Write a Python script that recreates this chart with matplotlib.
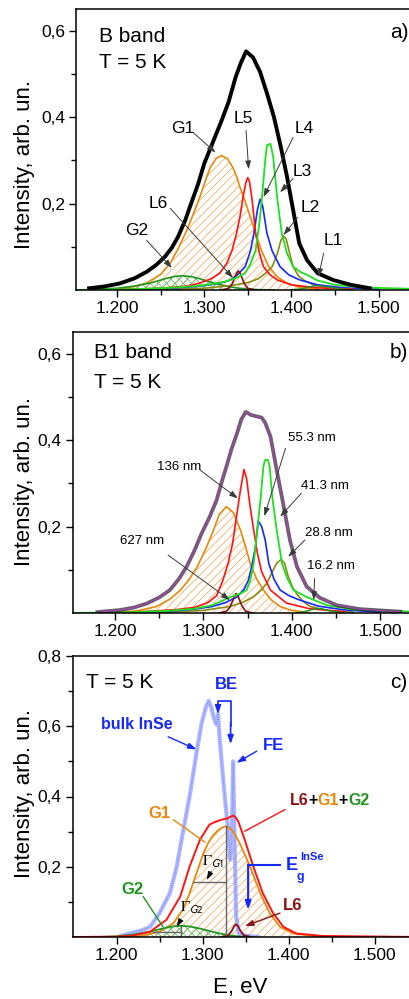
import matplotlib
matplotlib.use('Agg')
import matplotlib.pyplot as plt
from matplotlib.offsetbox import TextArea, HPacker, AnnotationBbox

plt.rcParams['font.family'] = ['Liberation Sans', 'DejaVu Sans']
plt.rcParams['mathtext.fontset'] = 'stix'
plt.rcParams['hatch.linewidth'] = 0.6

# ---------------- data ----------------
# panel a) B band
a_env_x = [1.168, 1.185, 1.203, 1.22, 1.234, 1.245, 1.255, 1.263, 1.270, 1.278, 1.285, 1.293, 1.300,
           1.310, 1.320, 1.328, 1.336, 1.342, 1.348, 1.356, 1.364, 1.372, 1.380, 1.388, 1.395, 1.402,
           1.409, 1.418, 1.430, 1.448, 1.468, 1.490]
a_env_y = [0.004, 0.008, 0.015, 0.027, 0.042, 0.058, 0.077, 0.098, 0.123, 0.160, 0.200, 0.245, 0.292,
           0.342, 0.392, 0.435, 0.492, 0.525, 0.552, 0.538, 0.505, 0.455, 0.400, 0.330, 0.262, 0.185,
           0.108, 0.069, 0.039, 0.023, 0.012, 0.004]
a_g1_x = [1.20, 1.22, 1.234, 1.25, 1.261, 1.270, 1.280, 1.288, 1.295, 1.302, 1.307, 1.314, 1.320, 1.327,
          1.333, 1.338, 1.341, 1.347, 1.353, 1.359, 1.366, 1.374, 1.384, 1.395, 1.41, 1.43]
a_g1_y = [0.002, 0.008, 0.016, 0.036, 0.062, 0.095, 0.138, 0.178, 0.215, 0.256, 0.284, 0.305, 0.311,
          0.303, 0.283, 0.258, 0.238, 0.205, 0.168, 0.131, 0.09, 0.054, 0.03, 0.016, 0.006, 0.002]
a_g2_x = [1.17, 1.20, 1.22, 1.24, 1.255, 1.265, 1.274, 1.285, 1.295, 1.31, 1.325, 1.34, 1.36, 1.38]
a_g2_y = [0.001, 0.004, 0.009, 0.017, 0.026, 0.031, 0.033, 0.031, 0.026, 0.017, 0.009, 0.004, 0.001, 0.0]
a_l6_x = [1.320, 1.328, 1.332, 1.335, 1.337, 1.339, 1.341, 1.343, 1.346, 1.350, 1.358]
a_l6_y = [0.0, 0.004, 0.014, 0.028, 0.038, 0.044, 0.040, 0.030, 0.015, 0.004, 0.0]
a_l5_x = [1.20, 1.25, 1.28, 1.295, 1.308, 1.318, 1.326, 1.332, 1.337, 1.341, 1.345, 1.348, 1.350, 1.352,
          1.355, 1.359, 1.363, 1.368, 1.375, 1.384, 1.40, 1.43, 1.47]
a_l5_y = [0.001, 0.004, 0.009, 0.016, 0.026, 0.039, 0.062, 0.092, 0.13, 0.169, 0.22, 0.25, 0.26, 0.25,
          0.208, 0.131, 0.088, 0.054, 0.036, 0.023, 0.012, 0.005, 0.002]
a_l4_x = [1.22, 1.26, 1.29, 1.31, 1.322, 1.330, 1.338, 1.347, 1.353, 1.357, 1.361, 1.364, 1.367, 1.372,
          1.378, 1.387, 1.397, 1.410, 1.43, 1.46, 1.50]
a_l4_y = [0.001, 0.004, 0.008, 0.013, 0.018, 0.023, 0.035, 0.054, 0.09, 0.131, 0.185, 0.21, 0.195, 0.131,
          0.09, 0.054, 0.035, 0.023, 0.012, 0.005, 0.002]
a_l3_x = [1.15, 1.22, 1.26, 1.29, 1.31, 1.325, 1.337, 1.347, 1.353, 1.359, 1.363, 1.366, 1.370, 1.372,
          1.376, 1.379, 1.384, 1.389, 1.395, 1.402, 1.410, 1.418, 1.43, 1.45, 1.48, 1.55]
a_l3_y = [0.0, 0.002, 0.005, 0.009, 0.014, 0.02, 0.028, 0.039, 0.06, 0.092, 0.15, 0.208, 0.30, 0.335,
          0.338, 0.31, 0.208, 0.131, 0.085, 0.054, 0.042, 0.035, 0.022, 0.012, 0.006, 0.002]
a_l2_x = [1.25, 1.30, 1.33, 1.350, 1.362, 1.370, 1.378, 1.384, 1.388, 1.391, 1.394, 1.398, 1.402, 1.408,
          1.414, 1.425, 1.44, 1.47]
a_l2_y = [0.001, 0.004, 0.01, 0.017, 0.026, 0.038, 0.054, 0.085, 0.115, 0.125, 0.118, 0.085, 0.054, 0.033,
          0.023, 0.012, 0.006, 0.002]
a_l1_x = [1.40, 1.415, 1.425, 1.432, 1.44, 1.455, 1.47]
a_l1_y = [0.0, 0.004, 0.009, 0.010, 0.008, 0.003, 0.0]

# panel b) B1 band
b_env_x = [1.18, 1.206, 1.222, 1.236, 1.250, 1.262, 1.272, 1.281, 1.290, 1.298, 1.307, 1.315, 1.320,
           1.326, 1.332, 1.338, 1.343, 1.348, 1.354, 1.360, 1.366, 1.370, 1.376, 1.383, 1.391, 1.398,
           1.406, 1.417, 1.432, 1.451, 1.477, 1.523]
b_env_y = [0.002, 0.007, 0.013, 0.022, 0.036, 0.053, 0.078, 0.107, 0.145, 0.184, 0.222, 0.261, 0.298,
           0.338, 0.380, 0.415, 0.448, 0.465, 0.458, 0.455, 0.452, 0.44, 0.408, 0.331, 0.246, 0.169,
           0.107, 0.061, 0.035, 0.018, 0.009, 0.003]
b_g1_x = [1.20, 1.225, 1.247, 1.262, 1.274, 1.284, 1.293, 1.302, 1.310, 1.318, 1.326, 1.334, 1.342,
          1.348, 1.353, 1.360, 1.368, 1.377, 1.387, 1.40, 1.42]
b_g1_y = [0.001, 0.005, 0.015, 0.032, 0.053, 0.078, 0.107, 0.145, 0.184, 0.228, 0.246, 0.232, 0.192,
          0.152, 0.115, 0.08, 0.053, 0.03, 0.015, 0.006, 0.001]
b_136_x = [1.20, 1.24, 1.27, 1.29, 1.305, 1.315, 1.322, 1.328, 1.333, 1.338, 1.342, 1.346, 1.349, 1.353,
           1.357, 1.361, 1.366, 1.376, 1.394, 1.42, 1.46]
b_136_y = [0.001, 0.004, 0.008, 0.013, 0.024, 0.04, 0.075, 0.115, 0.16, 0.23, 0.285, 0.332, 0.31, 0.245,
           0.192, 0.14, 0.095, 0.053, 0.023, 0.01, 0.003]
b_553_x = [1.22, 1.26, 1.29, 1.31, 1.325, 1.338, 1.346, 1.351, 1.355, 1.359, 1.362, 1.366, 1.370, 1.374,
           1.380, 1.387, 1.397, 1.409, 1.43, 1.46, 1.50]
b_553_y = [0.001, 0.004, 0.009, 0.015, 0.024, 0.037, 0.055, 0.076, 0.11, 0.153, 0.213, 0.2, 0.169, 0.115,
           0.078, 0.053, 0.04, 0.03, 0.016, 0.007, 0.002]
b_413_x = [1.15, 1.22, 1.26, 1.29, 1.31, 1.323, 1.335, 1.343, 1.349, 1.353, 1.357, 1.361, 1.365, 1.368,
           1.370, 1.373, 1.375, 1.378, 1.383, 1.389, 1.395, 1.402, 1.417, 1.44, 1.47, 1.55]
b_413_y = [0.0, 0.002, 0.005, 0.01, 0.018, 0.03, 0.04, 0.046, 0.053, 0.075, 0.115, 0.192, 0.269, 0.34,
           0.354, 0.354, 0.34, 0.269, 0.192, 0.115, 0.08, 0.053, 0.037, 0.018, 0.008, 0.002]
b_288_x = [1.25, 1.30, 1.330, 1.345, 1.357, 1.365, 1.372, 1.378, 1.383, 1.388, 1.392, 1.396, 1.401,
           1.406, 1.413, 1.421, 1.44, 1.47]
b_288_y = [0.001, 0.006, 0.015, 0.025, 0.038, 0.052, 0.069, 0.095, 0.115, 0.124, 0.115, 0.085, 0.06,
           0.043, 0.027, 0.015, 0.006, 0.002]
b_627_x = [1.318, 1.326, 1.330, 1.333, 1.335, 1.337, 1.339, 1.341, 1.344, 1.348, 1.356]
b_627_y = [0.0, 0.004, 0.013, 0.027, 0.038, 0.045, 0.040, 0.030, 0.015, 0.004, 0.0]
b_162_x = [1.405, 1.418, 1.427, 1.434, 1.443, 1.46]
b_162_y = [0.0, 0.005, 0.010, 0.010, 0.005, 0.0]

# panel c) bulk InSe and the L6+G1+G2 fit
c_bulk_x = [1.205, 1.215, 1.228, 1.239, 1.250, 1.262, 1.270, 1.277, 1.285, 1.293, 1.299, 1.304, 1.307,
            1.310, 1.313, 1.316, 1.318, 1.320, 1.324, 1.327, 1.330, 1.332, 1.334, 1.3355, 1.337, 1.339,
            1.342, 1.35, 1.365]
c_bulk_y = [0.003, 0.010, 0.018, 0.029, 0.068, 0.125, 0.201, 0.296, 0.401, 0.525, 0.61, 0.655, 0.672,
            0.655, 0.625, 0.605, 0.635, 0.56, 0.449, 0.37, 0.30, 0.22, 0.28, 0.50, 0.30, 0.06,
            0.01, 0.004, 0.0]
c_g1_x = [1.20, 1.227, 1.250, 1.266, 1.277, 1.285, 1.293, 1.301, 1.307, 1.312, 1.318, 1.323, 1.327,
          1.332, 1.337, 1.343, 1.349, 1.355, 1.361, 1.367, 1.378, 1.390, 1.405, 1.425, 1.45]
c_g1_y = [0.0, 0.002, 0.015, 0.039, 0.077, 0.125, 0.182, 0.239, 0.27, 0.288, 0.304, 0.312, 0.315,
          0.31, 0.295, 0.268, 0.236, 0.201, 0.163, 0.125, 0.068, 0.029, 0.010, 0.004, 0.0]
c_sum_x = [1.15, 1.20, 1.219, 1.239, 1.258, 1.274, 1.285, 1.297, 1.308, 1.315, 1.322, 1.328, 1.334,
           1.336, 1.3385, 1.3415, 1.345, 1.349, 1.359, 1.370, 1.382, 1.394, 1.409, 1.44, 1.55]
c_sum_y = [0.0, 0.001, 0.004, 0.015, 0.049, 0.115, 0.201, 0.277, 0.32, 0.328, 0.334, 0.337, 0.344,
           0.346, 0.34, 0.329, 0.305, 0.277, 0.201, 0.125, 0.068, 0.029, 0.010, 0.003, 0.0]
c_g2_x = [1.18, 1.20, 1.22, 1.24, 1.255, 1.265, 1.275, 1.285, 1.297, 1.31, 1.32, 1.33, 1.345, 1.36]
c_g2_y = [0.0, 0.002, 0.007, 0.016, 0.025, 0.030, 0.032, 0.030, 0.024, 0.016, 0.010, 0.005, 0.001, 0.0]
c_l6_x = [1.322, 1.330, 1.334, 1.337, 1.339, 1.341, 1.344, 1.348, 1.356]
c_l6_y = [0.0, 0.005, 0.018, 0.032, 0.036, 0.032, 0.018, 0.005, 0.0]

x_major = [1.2, 1.3, 1.4, 1.5]
x_major_labels = ['1.200', '1.300', '1.400', '1.500']
x_minor = [1.25, 1.35, 1.45]

ORANGE = '#e8890c'
HATCH_OR = '#f2b16e'
RED = '#ff1414'
BLUE = '#1428ff'
LGREEN = '#1ee01e'
OLIVE = '#8a8a12'
MAROON = '#8b1212'
DGREEN = '#1f961f'
PURPLE = '#a640b0'
ARR = '#3a3a3a'

W, H = 409, 999
fig = plt.figure(figsize=(W / 100, H / 100), dpi=100)


def px_ax(left, top, bottom, xmin, ppu):
    # axes placed in pixel units; width from the px-per-eV scale
    return fig.add_axes([left / W, 1 - bottom / H, 0.4 * ppu / W, (bottom - top) / H])


def setup(ax, xmin, ymax, yt, ytl, ymin_t):
    ax.set_xlim(xmin, xmin + 0.4)
    ax.set_ylim(0, ymax)
    ax.set_xticks(x_major)
    ax.set_xticklabels(x_major_labels)
    ax.set_xticks(x_minor, minor=True)
    ax.set_yticks(yt)
    ax.set_yticklabels(ytl)
    ax.set_yticks(ymin_t, minor=True)
    ax.tick_params(which='major', direction='out', length=5, width=1, labelsize=12.5, pad=3)
    ax.tick_params(which='minor', direction='out', length=3.5, width=1)
    for s in ax.spines.values():
        s.set_linewidth(1.1)


def ftxt(px, py, s, **kw):
    fig.text(px / W, 1 - py / H, s, **kw)


def arrow(ax, tail, head, color=ARR, lw=0.7, head_on=True):
    style = '-|>,head_length=0.5,head_width=0.17' if head_on else '-'
    ax.annotate('', xy=head, xytext=tail,
                arrowprops=dict(arrowstyle=style, color=color, lw=lw, shrinkA=0, shrinkB=0))


# ---------------- a) ----------------
ax = px_ax(76, 9, 290, 1.153, 872)
setup(ax, 1.153, 0.65, [0.2, 0.4, 0.6], ['0,2', '0,4', '0,6'], [0.1, 0.3, 0.5])
ax.fill_between(a_g1_x, a_g1_y, 0, facecolor='none', edgecolor=HATCH_OR, hatch='////', linewidth=0)
ax.fill_between(a_g2_x, a_g2_y, 0, facecolor='none', edgecolor='#6cc06c', hatch='xxxx', linewidth=0)
ax.plot(a_g1_x, a_g1_y, color=ORANGE, lw=1.2)
ax.plot(a_g2_x, a_g2_y, color=DGREEN, lw=1.2)
ax.plot(a_l2_x, a_l2_y, color=OLIVE, lw=1.2)
ax.plot(a_l4_x, a_l4_y, color=BLUE, lw=1.2)
ax.plot(a_l5_x, a_l5_y, color=RED, lw=1.2)
ax.plot(a_l6_x, a_l6_y, color=MAROON, lw=1.2)
ax.plot(a_l1_x, a_l1_y, color=DGREEN, lw=1.0)
ax.plot(a_l3_x, a_l3_y, color=LGREEN, lw=1.3)
ax.plot(a_env_x, a_env_y, color='black', lw=2.8)

a_labels = [('G1', (1.275, 0.374), (1.287, 0.365), (1.313, 0.318)),
            ('L5', (1.345, 0.397), (1.348, 0.369), (1.351, 0.279)),
            ('L4', (1.415, 0.374), (1.402, 0.353), (1.368, 0.215)),
            ('L3', (1.412, 0.275), (1.402, 0.258), (1.387, 0.226)),
            ('L2', (1.422, 0.191), (1.407, 0.168), (1.391, 0.127)),
            ('L1', (1.448, 0.115), (1.437, 0.085), (1.431, 0.030)),
            ('L6', (1.247, 0.201), (1.261, 0.189), (1.333, 0.028)),
            ('G2', (1.223, 0.138), (1.234, 0.115), (1.263, 0.051))]
for s, pos, tail, head in a_labels:
    ax.text(pos[0], pos[1], s, ha='center', va='center', fontsize=12.5)
    arrow(ax, tail, head)

ftxt(99, 37, 'B band', fontsize=15, va='center')
ftxt(99, 63, 'T = 5 K', fontsize=15, va='center')
ftxt(390, 33, 'a)', fontsize=15, va='center')
ftxt(25, 165, 'Intensity, arb. un.', fontsize=16, rotation=90, ha='center', va='center')

# ---------------- b) ----------------
ax = px_ax(72.7, 332, 613, 1.152, 883)
setup(ax, 1.152, 0.65, [0.2, 0.4, 0.6], ['0,2', '0,4', '0,6'], [0.1, 0.3, 0.5])
ax.fill_between(b_g1_x, b_g1_y, 0, facecolor='none', edgecolor=HATCH_OR, hatch='////', linewidth=0)
ax.plot(b_g1_x, b_g1_y, color=ORANGE, lw=1.2)
ax.plot(b_288_x, b_288_y, color=OLIVE, lw=1.2)
ax.plot(b_553_x, b_553_y, color=BLUE, lw=1.2)
ax.plot(b_136_x, b_136_y, color=RED, lw=1.2)
ax.plot(b_627_x, b_627_y, color=MAROON, lw=1.2)
ax.plot(b_162_x, b_162_y, color=DGREEN, lw=1.0)
ax.plot(b_413_x, b_413_y, color=LGREEN, lw=1.3)
ax.plot(b_env_x, b_env_y, color='#222222', lw=2.7, alpha=0.7)
ax.plot(b_env_x, b_env_y, color=PURPLE, lw=0.9)

b_labels = [('136 nm', (1.272, 0.338), (1.296, 0.331), (1.339, 0.265)),
            ('55.3 nm', (1.423, 0.404), (1.393, 0.381), (1.369, 0.224)),
            ('41.3 nm', (1.438, 0.294), (1.411, 0.277), (1.387, 0.223)),
            ('28.8 nm', (1.442, 0.184), (1.415, 0.169), (1.396, 0.130)),
            ('16.2 nm', (1.445, 0.109), (1.426, 0.080), (1.425, 0.030)),
            ('627 nm', (1.230, 0.166), (1.260, 0.134), (1.330, 0.030))]
for s, pos, tail, head in b_labels:
    ax.text(pos[0], pos[1], s, ha='center', va='center', fontsize=9.5)
    arrow(ax, tail, head)

ftxt(94, 353, 'B1 band', fontsize=15, va='center')
ftxt(94, 382, 'T = 5 K', fontsize=15, va='center')
ftxt(390, 353, 'b)', fontsize=15, va='center')
ftxt(25, 482, 'Intensity, arb. un.', fontsize=16, rotation=90, ha='center', va='center')

# ---------------- c) ----------------
ax = px_ax(72.7, 656, 937, 1.149, 860)
setup(ax, 1.149, 0.8, [0.2, 0.4, 0.6, 0.8], ['0,2', '0,4', '0,6', '0,8'], [0.1, 0.3, 0.5, 0.7])
ax.fill_between(c_g1_x, c_g1_y, 0, facecolor='none', edgecolor=HATCH_OR, hatch='////', linewidth=0)
ax.fill_between(c_g2_x, c_g2_y, 0, facecolor='none', edgecolor='#6cc06c', hatch='xxxx', linewidth=0)
ax.plot(c_bulk_x, c_bulk_y, color='#9ba6ff', lw=3.0, alpha=0.8)
ax.plot(c_bulk_x, c_bulk_y, color='#4a5aff', lw=0.6, ls=':', alpha=0.7)
ax.plot(c_g1_x, c_g1_y, color=ORANGE, lw=1.3)
ax.plot(c_g2_x, c_g2_y, color=DGREEN, lw=1.3)
ax.plot(c_l6_x, c_l6_y, color=MAROON, lw=1.3)
ax.plot(c_sum_x, c_sum_y, color=RED, lw=1.4)

# FWHM marks
ax.plot([1.327, 1.327], [0, 0.315], color='#666666', lw=1.0)
ax.plot([1.289, 1.327], [0.157, 0.157], color='#666666', lw=1.0)
ax.plot([1.2744, 1.2744], [0, 0.032], color='#666666', lw=1.0)
ax.plot([1.2426, 1.2744], [0.015, 0.015], color='#666666', lw=1.0)
ax.text(1.312, 0.215, r'$\Gamma_{\mathsf{G1}}$', fontsize=11, ha='center', va='center')
ax.text(1.287, 0.082, r'$\Gamma_{\mathsf{G2}}$', fontsize=11, ha='center', va='center')
arrow(ax, (1.310, 0.187), (1.305, 0.163), color='black', lw=0.6)
arrow(ax, (1.274, 0.046), (1.270, 0.029), color='black', lw=0.6)

# BE bracket
ax.plot([1.318, 1.318, 1.3326, 1.3326], [0.655, 0.672, 0.672, 0.6], color=BLUE, lw=1.2)
arrow(ax, (1.318, 0.66), (1.318, 0.634), color=BLUE, lw=1.2)
arrow(ax, (1.3326, 0.61), (1.3326, 0.549), color=BLUE, lw=1.2)
ax.text(1.328, 0.72, 'BE', color=BLUE, fontsize=12, fontweight='bold', ha='center', va='center')
ax.text(1.382, 0.544, 'FE', color=BLUE, fontsize=12, fontweight='bold', ha='center', va='center')
arrow(ax, (1.363, 0.529), (1.3395, 0.496), color=BLUE, lw=1.0)
ax.text(1.223, 0.606, 'bulk InSe', color=BLUE, fontsize=11.5, fontweight='bold', ha='center', va='center')
arrow(ax, (1.260, 0.570), (1.293, 0.534), color=BLUE, lw=1.0)

ax.text(1.250, 0.353, 'G1', color=ORANGE, fontsize=12, fontweight='bold', ha='center', va='center')
arrow(ax, (1.266, 0.334), (1.303, 0.27), color=ORANGE, lw=1.0, head_on=False)
ax.text(1.219, 0.136, 'G2', color=DGREEN, fontsize=12, fontweight='bold', ha='center', va='center')
arrow(ax, (1.231, 0.115), (1.254, 0.029), color=DGREEN, lw=1.0, head_on=False)
ax.text(1.4047, 0.089, 'L6', color=MAROON, fontsize=12, fontweight='bold', ha='center', va='center')
arrow(ax, (1.390, 0.068), (1.3492, 0.031), color=MAROON, lw=1.0)

parts = [('L6', MAROON), ('+', 'black'), ('G1', ORANGE), ('+', 'black'), ('G2', DGREEN)]
pack = HPacker(children=[TextArea(s, textprops=dict(color=c, fontsize=11.5, fontweight='bold'))
                         for s, c in parts], pad=0, sep=0)
ax.add_artist(AnnotationBbox(pack, (1.401, 0.389), box_alignment=(0, 0.5), frameon=False, pad=0))
arrow(ax, (1.396, 0.363), (1.349, 0.301), color=RED, lw=1.0, head_on=False)

# E_g bracket
ax.plot([1.390, 1.353], [0.206, 0.206], color=BLUE, lw=1.5)
arrow(ax, (1.353, 0.206), (1.353, 0.077), color=BLUE, lw=1.5)
ax.text(1.3965, 0.204, 'E', color=BLUE, fontsize=13, fontweight='bold', ha='left', va='center')
ax.text(1.4095, 0.172, 'g', color=BLUE, fontsize=9, fontweight='bold', ha='left', va='center')
ax.text(1.4132, 0.229, 'InSe', color=BLUE, fontsize=8, fontweight='bold', ha='left', va='center')

ftxt(86, 682, 'T = 5 K', fontsize=15, va='center')
ftxt(390, 682, 'c)', fontsize=15, va='center')
ftxt(25, 794, 'Intensity, arb. un.', fontsize=16, rotation=90, ha='center', va='center')
ftxt(240, 988, 'E, eV', fontsize=16, ha='center', va='center')

fig.savefig('out.png', dpi=100)
